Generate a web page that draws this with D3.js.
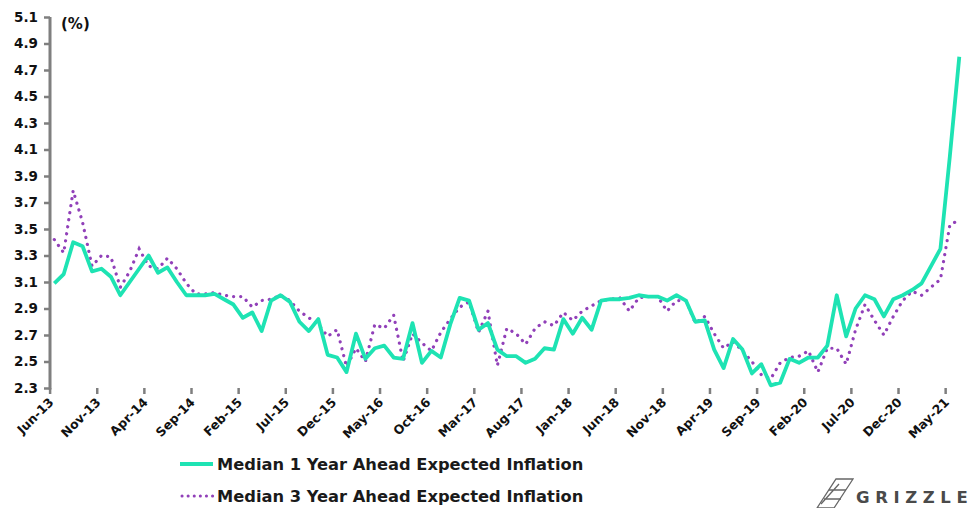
<!DOCTYPE html>
<html>
<head>
<meta charset="utf-8">
<script src="https://cdn.jsdelivr.net/npm/d3@7/dist/d3.min.js"></script>
<style>
  html, body { margin: 0; padding: 0; background: #fff; }
  svg { display: block; }
  text { font-family: "DejaVu Sans", sans-serif; }
</style>
</head>
<body>
<svg id="chart" width="979" height="508"></svg>
<script>
// Monthly survey medians, Jun-13 .. Jun-21
const months = [];
(function () {
  const names = ["Jan","Feb","Mar","Apr","May","Jun","Jul","Aug","Sep","Oct","Nov","Dec"];
  for (let k = 0; k < 97; k++) {
    const m = (5 + k) % 12, yr = 13 + Math.floor((5 + k) / 12);
    months.push(names[m] + "-" + yr);
  }
})();

const oneYear = [
  3.09, 3.16, 3.40, 3.37, 3.18, 3.20, 3.14, 3.00, 3.10, 3.20,
  3.30, 3.17, 3.21, 3.10, 3.00, 3.00, 3.00, 3.01, 2.97, 2.93,
  2.83, 2.87, 2.73, 2.96, 3.00, 2.95, 2.80, 2.73, 2.82, 2.55,
  2.53, 2.42, 2.71, 2.52, 2.60, 2.62, 2.53, 2.52, 2.79, 2.49,
  2.58, 2.53, 2.78, 2.98, 2.96, 2.74, 2.79, 2.59, 2.54, 2.54,
  2.49, 2.52, 2.60, 2.59, 2.82, 2.71, 2.83, 2.74, 2.96, 2.97,
  2.97, 2.98, 3.00, 2.99, 2.99, 2.96, 3.00, 2.96, 2.80, 2.81,
  2.59, 2.45, 2.67, 2.59, 2.41, 2.48, 2.32, 2.34, 2.52, 2.49,
  2.53, 2.53, 2.62, 3.00, 2.69, 2.90, 3.00, 2.97, 2.84, 2.97,
  3.00, 3.04, 3.09, 3.22, 3.35, 4.05, 4.80
];

const threeYear = [
  3.42, 3.32, 3.79, 3.55, 3.22, 3.30, 3.29, 3.06, 3.18, 3.35,
  3.22, 3.20, 3.28, 3.20, 3.09, 3.01, 3.01, 3.02, 3.00, 2.99,
  2.99, 2.91, 2.96, 2.97, 3.00, 2.96, 2.88, 2.83, 2.78, 2.69,
  2.74, 2.46, 2.60, 2.50, 2.78, 2.75, 2.85, 2.50, 2.71, 2.64,
  2.58, 2.72, 2.82, 2.91, 2.95, 2.72, 2.88, 2.47, 2.75, 2.71,
  2.63, 2.75, 2.80, 2.77, 2.87, 2.81, 2.88, 2.92, 2.96, 2.97,
  2.98, 2.88, 2.98, 2.99, 2.99, 2.88, 2.96, 2.96, 2.79, 2.84,
  2.71, 2.60, 2.65, 2.58, 2.50, 2.40, 2.37, 2.49, 2.53, 2.54,
  2.58, 2.42, 2.60, 2.60, 2.48, 2.74, 2.93, 2.81, 2.70, 2.84,
  2.96, 3.03, 3.00, 3.06, 3.12, 3.53, 3.57
];

const yTicks = [2.3, 2.5, 2.7, 2.9, 3.1, 3.3, 3.5, 3.7, 3.9, 4.1, 4.3, 4.5, 4.7, 4.9, 5.1];
const xTickEvery = 5;
const seriesNames = ["Median 1 Year Ahead Expected Inflation", "Median 3 Year Ahead Expected Inflation"];

const TEAL = "#1ee3b3";
const PURPLE = "#9140b9";
const AXIS = "#7f7f7f";

const svg = d3.select("#chart");

const x = d3.scaleLinear().domain([0, months.length]).range([49.6, 964]);
const y = d3.scaleLinear().domain([2.3, 5.1]).range([388, 17]);
const cx = i => x(i + 0.5);

// y axis
const yAxis = svg.append("g")
  .attr("transform", "translate(50,0)")
  .call(d3.axisLeft(y).tickValues(yTicks).tickSize(6).tickPadding(6).tickFormat(d3.format(".1f")));
yAxis.select(".domain").attr("stroke", AXIS).attr("stroke-width", 3).attr("d", `M0,${y(5.1)}V${y(2.3) + 1.5}`);
yAxis.selectAll(".tick line").attr("stroke", AXIS).attr("stroke-width", 2.5);
yAxis.selectAll(".tick text")
  .attr("fill", "#111").attr("font-size", 13.5).attr("font-weight", "bold")
  .attr("font-family", "DejaVu Sans, sans-serif");

// x axis: ticks at category boundaries every five months
const xTickVals = d3.range(0, months.length, xTickEvery);
const xAxis = svg.append("g")
  .attr("transform", `translate(0,${y(2.3)})`)
  .call(d3.axisBottom(x).tickValues(xTickVals).tickSize(6).tickFormat(""));
xAxis.select(".domain").attr("stroke", AXIS).attr("stroke-width", 3).attr("d", `M${x(0) - 1}H${x(months.length)}`);
xAxis.selectAll(".tick line").attr("stroke", AXIS).attr("stroke-width", 2.5);

// rotated month labels
svg.append("g").selectAll("text")
  .data(xTickVals)
  .join("text")
  .attr("transform", i => `translate(${cx(i)},${y(2.3) + 15}) rotate(-45)`)
  .attr("text-anchor", "end")
  .attr("font-size", 12.5)
  .attr("font-weight", "bold")
  .attr("fill", "#111")
  .text(i => months[i]);

// unit label
svg.append("text")
  .attr("x", 61).attr("y", 29)
  .attr("font-size", 15).attr("font-weight", "bold").attr("fill", "#111")
  .text("(%)");

// series lines
const line = d3.line().x((d, i) => cx(i)).y(d => y(d));

svg.append("path")
  .datum(threeYear)
  .attr("d", line)
  .attr("fill", "none")
  .attr("stroke", PURPLE)
  .attr("stroke-width", 3.2)
  .attr("stroke-linecap", "round")
  .attr("stroke-dasharray", "0.1 7");

svg.append("path")
  .datum(oneYear)
  .attr("d", line)
  .attr("fill", "none")
  .attr("stroke", TEAL)
  .attr("stroke-width", 3.8)
  .attr("stroke-linejoin", "round");

// legend
const legend = svg.append("g");
legend.append("line")
  .attr("x1", 180).attr("x2", 213).attr("y1", 464).attr("y2", 464)
  .attr("stroke", TEAL).attr("stroke-width", 4);
legend.append("line")
  .attr("x1", 182).attr("x2", 213).attr("y1", 496).attr("y2", 496)
  .attr("stroke", PURPLE).attr("stroke-width", 3).attr("stroke-linecap", "round")
  .attr("stroke-dasharray", "0.1 6");
legend.selectAll("text.lg")
  .data(seriesNames)
  .join("text")
  .attr("class", "lg")
  .attr("x", 217)
  .attr("y", (d, i) => 470 + i * 32)
  .attr("font-family", "Open Sans, sans-serif")
  .attr("font-size", 16.3)
  .attr("font-weight", 600)
  .attr("fill", "#1a1a1a")
  .text(d => d);

// brand mark
const brand = svg.append("g").attr("stroke", "#666").attr("fill", "none").attr("stroke-width", 1.3);
brand.append("path").attr("d", "M817,508 L836,479 L853,479 L834,508 Z");
brand.append("path").attr("d", "M824,499 L841,499 M829,490 L846,490 M821,504 L839,484");
svg.append("text")
  .attr("x", 856).attr("y", 503)
  .attr("font-family", "Open Sans, sans-serif")
  .attr("font-size", 16.5).attr("font-weight", 600)
  .attr("letter-spacing", 5.6)
  .attr("fill", "#4a4a4a")
  .text("GRIZZLE");
</script>
</body>
</html>
